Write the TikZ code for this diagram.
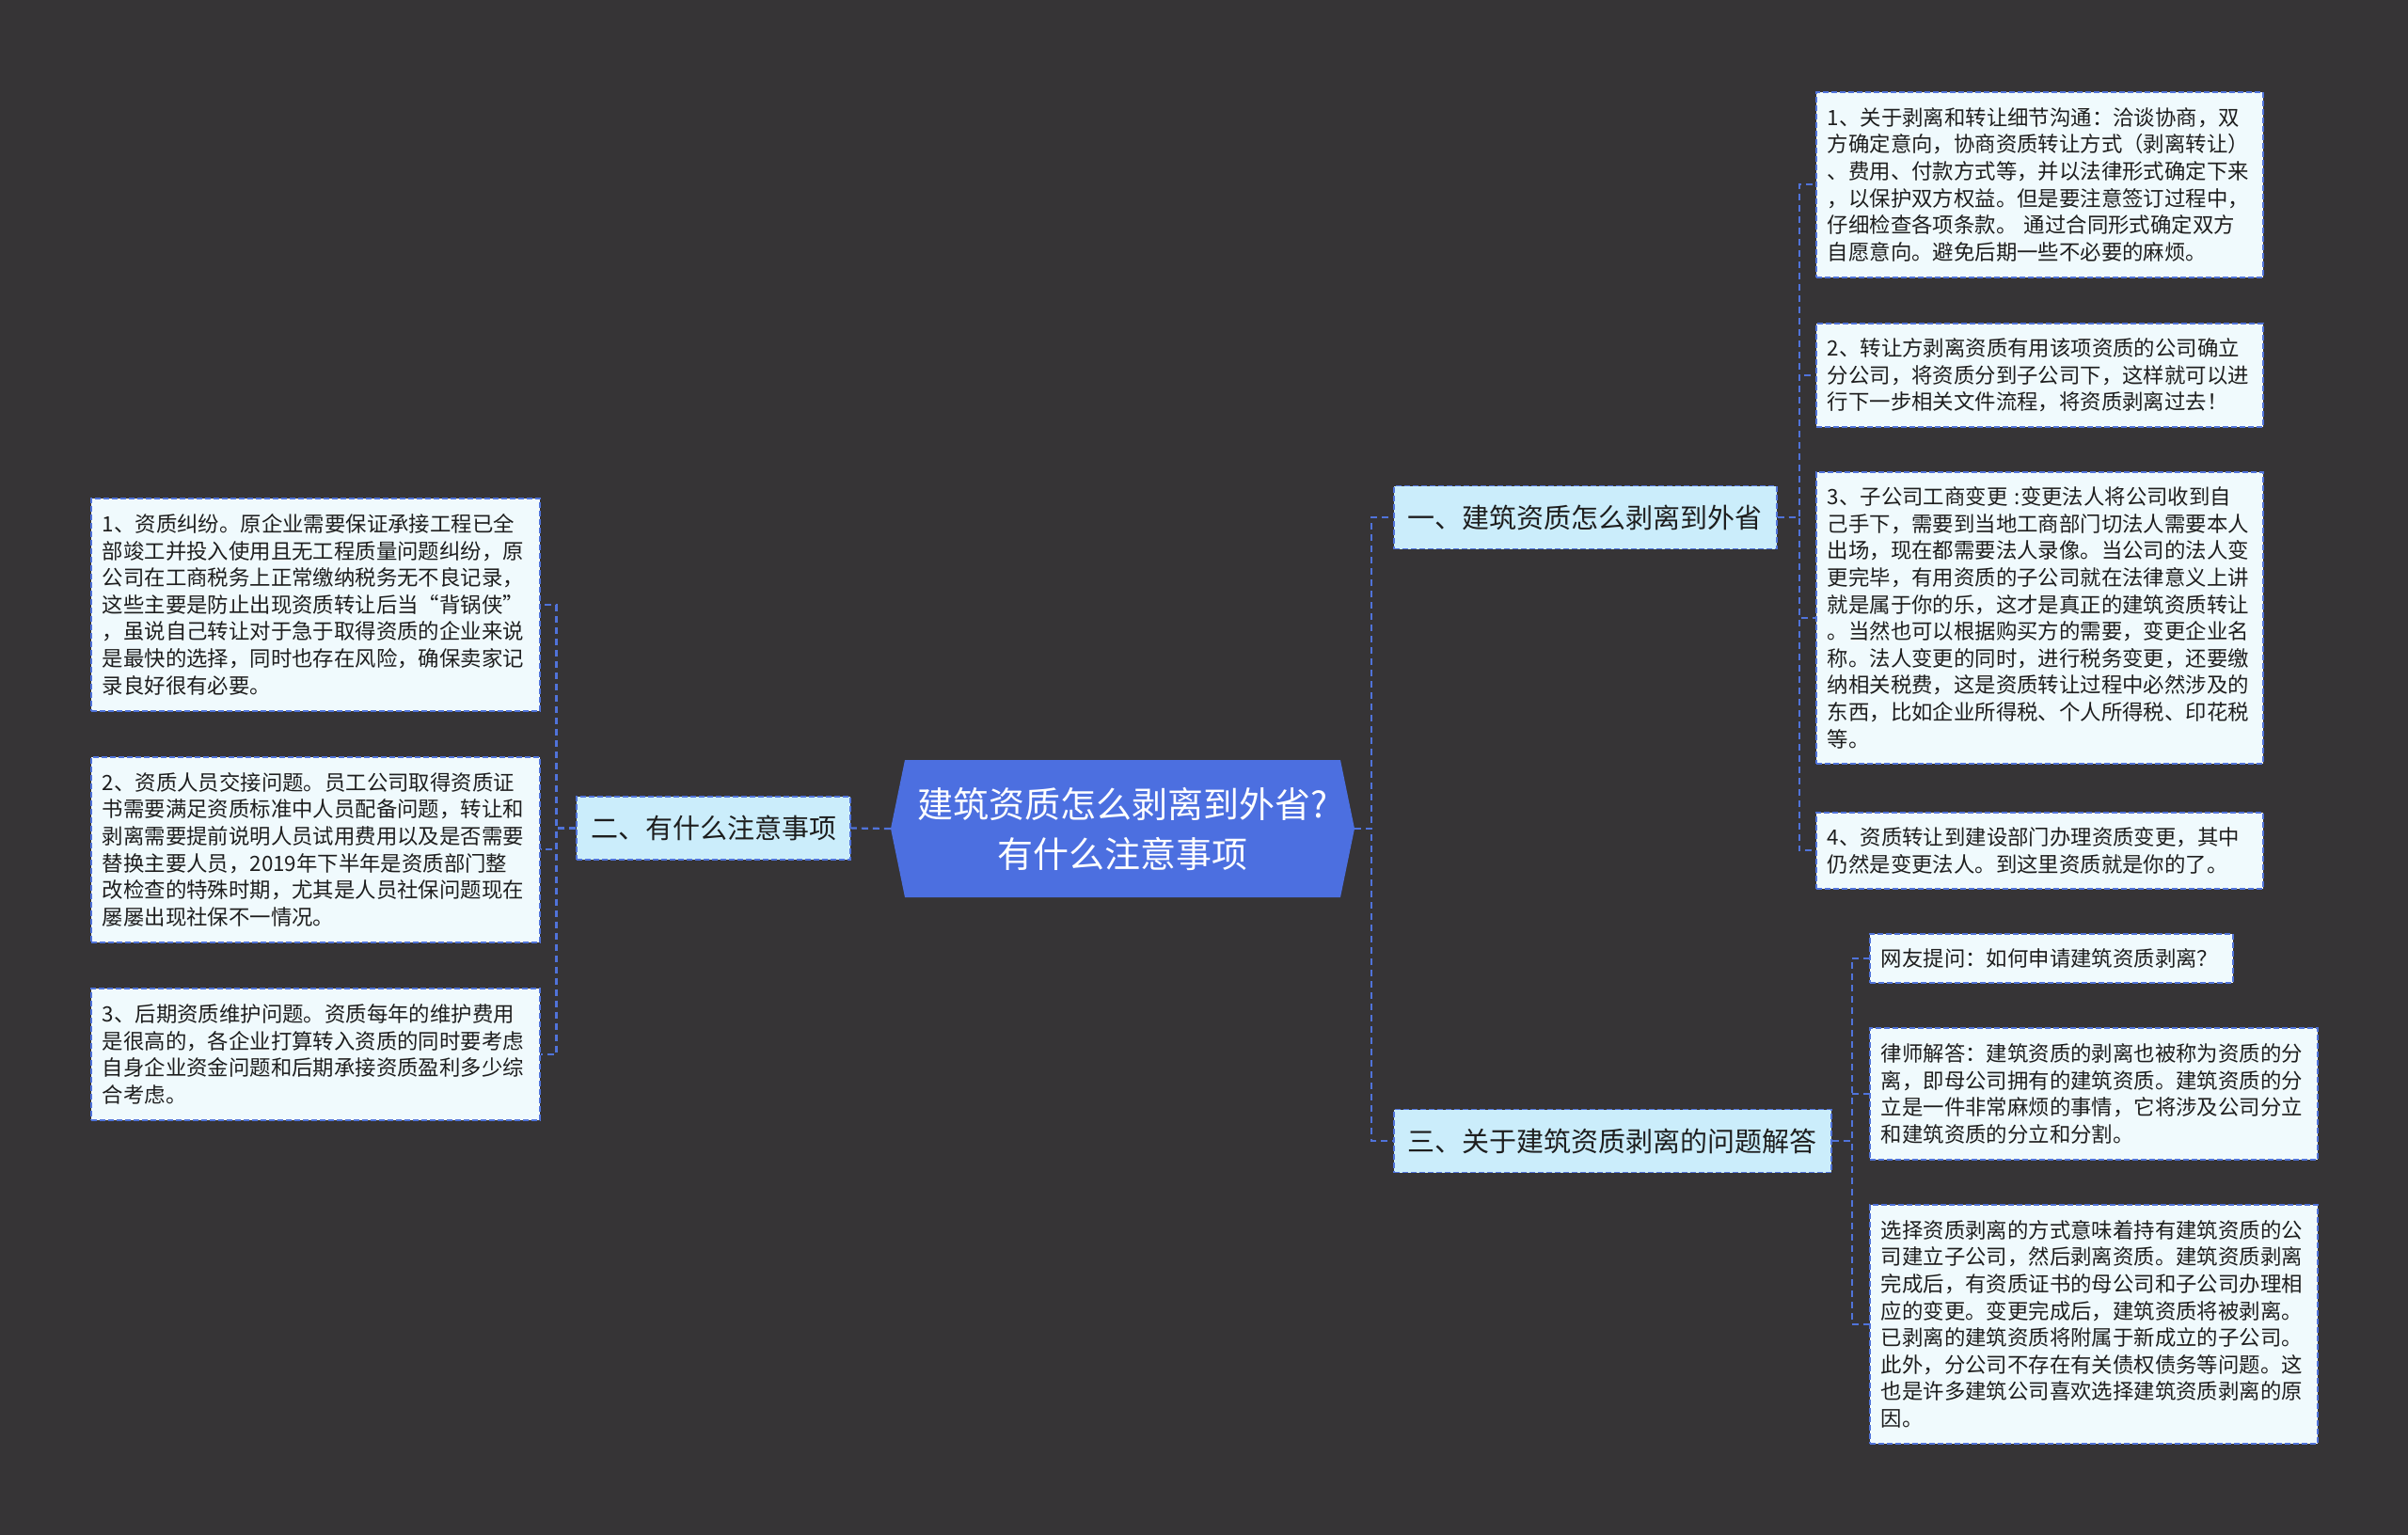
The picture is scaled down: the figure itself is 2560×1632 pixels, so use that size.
\documentclass[tikz,border=0pt]{standalone}
\usepackage{fontspec}
\setmainfont{Noto Sans CJK SC}
\definecolor{bg}{HTML}{363436}
\definecolor{linec}{HTML}{5073DA}
\definecolor{cfill}{HTML}{4C6FE0}
\definecolor{brfill}{HTML}{CBEDFB}
\definecolor{leaffill}{HTML}{F0FAFD}
\definecolor{txt}{HTML}{1E1E1E}
\begin{document}
\begin{tikzpicture}[x=1pt,y=-1pt,
  conn/.style={draw=linec, line width=2.2pt, dash pattern=on 7pt off 5pt},
  leaf/.style={draw=linec, line width=1.6pt, dash pattern=on 6pt off 3pt, fill=leaffill, text=txt,
    font=\fontsize{22.4pt}{28.6pt}\selectfont, align=left, inner xsep=12pt, inner ysep=0pt, anchor=north west},
  branch/.style={draw=linec, line width=1.6pt, dash pattern=on 6pt off 3pt, fill=brfill, text=txt,
    font=\fontsize{29pt}{35pt}\selectfont, inner xsep=15pt, inner ysep=0pt, minimum height=67pt}
]
\fill[bg] (0,0) rectangle (2560,1632);
\useasboundingbox (0,0) rectangle (2560,1632);

% center
\fill[cfill] (947,881) -- (962,808) -- (1425,808) -- (1440,881) -- (1425,954) -- (962,954) -- cycle;
\node[text=white, font=\fontsize{38pt}{53pt}\selectfont, align=center, minimum width=493pt, minimum height=146pt, inner sep=0pt] (c) at (1193.5,881) {\raisebox{0pt}[0pt][0pt]{}建筑资质怎么剥离到外省?\\有什么注意事项};

% branches
\node[branch, anchor=west] (b1) at (1481,550) {一、建筑资质怎么剥离到外省};
\node[branch, anchor=west] (b3) at (1481,1213) {三、关于建筑资质剥离的问题解答};
\node[branch, anchor=east] (b2) at (905,880.5) {二、有什么注意事项};

% right leaves of b1
\node[leaf, text width=451pt, minimum height=197pt] (r1) at (1930,97) {1、关于剥离和转让细节沟通：洽谈协商，双\\方确定意向，协商资质转让方式（剥离转让）\\、费用、付款方式等，并以法律形式确定下来\\，以保护双方权益。但是要注意签订过程中，\\仔细检查各项条款。~通过合同形式确定双方\\自愿意向。避免后期一些不必要的麻烦。};
\node[leaf, text width=451pt, minimum height=110pt] (r2) at (1930,343) {2、转让方剥离资质有用该项资质的公司确立\\分公司，将资质分到子公司下，这样就可以进\\行下一步相关文件流程，将资质剥离过去！};
\node[leaf, text width=451pt, minimum height=310pt] (r3) at (1930,501) {3、子公司工商变更~:变更法人将公司收到自\\己手下，需要到当地工商部门切法人需要本人\\出场，现在都需要法人录像。当公司的法人变\\更完毕，有用资质的子公司就在法律意义上讲\\就是属于你的乐，这才是真正的建筑资质转让\\。当然也可以根据购买方的需要，变更企业名\\称。法人变更的同时，进行税务变更，还要缴\\纳相关税费，这是资质转让过程中必然涉及的\\东西，比如企业所得税、个人所得税、印花税\\等。};
\node[leaf, text width=451pt, minimum height=81pt] (r4) at (1930,863) {4、资质转让到建设部门办理资质变更，其中\\仍然是变更法人。到这里资质就是你的了。};

% leaves of b3
\node[leaf, text width=362pt, minimum height=52pt] (q) at (1987,992) {网友提问：如何申请建筑资质剥离？};
\node[leaf, text width=452pt, minimum height=140pt] (a1) at (1987,1092) {律师解答：建筑资质的剥离也被称为资质的分\\离，即母公司拥有的建筑资质。建筑资质的分\\立是一件非常麻烦的事情，它将涉及公司分立\\和建筑资质的分立和分割。};
\node[leaf, text width=452pt, minimum height=254pt] (a2) at (1987,1280) {选择资质剥离的方式意味着持有建筑资质的公\\司建立子公司，然后剥离资质。建筑资质剥离\\完成后，有资质证书的母公司和子公司办理相\\应的变更。变更完成后，建筑资质将被剥离。\\已剥离的建筑资质将附属于新成立的子公司。\\此外，分公司不存在有关债权债务等问题。这\\也是许多建筑公司喜欢选择建筑资质剥离的原\\因。};

% left leaves
\node[leaf, text width=453pt, minimum height=226pt] (l1) at (96,529) {1、资质纠纷。原企业需要保证承接工程已全\\部竣工并投入使用且无工程质量问题纠纷，原\\公司在工商税务上正常缴纳税务无不良记录，\\这些主要是防止出现资质转让后当“背锅侠”\\，虽说自己转让对于急于取得资质的企业来说\\是最快的选择，同时也存在风险，确保卖家记\\录良好很有必要。};
\node[leaf, text width=453pt, minimum height=197pt] (l2) at (96,804) {2、资质人员交接问题。员工公司取得资质证\\书需要满足资质标准中人员配备问题，转让和\\剥离需要提前说明人员试用费用以及是否需要\\替换主要人员，2019年下半年是资质部门整\\改检查的特殊时期，尤其是人员社保问题现在\\屡屡出现社保不一情况。};
\node[leaf, text width=453pt, minimum height=140pt] (l3) at (96,1050) {3、后期资质维护问题。资质每年的维护费用\\是很高的，各企业打算转入资质的同时要考虑\\自身企业资金问题和后期承接资质盈利多少综\\合考虑。};

% connectors
\draw[conn] (c.east) -- ++(18,0) |- (b1.west);
\draw[conn] (c.east) -- ++(18,0) |- (b3.west);
\draw[conn] (c.west) -- (b2.east);
\foreach \n in {r1,r2,r3,r4} \draw[conn] (b1.east) -- ++(23,0) |- (\n.west);
\foreach \n in {q,a1,a2} \draw[conn] (b3.east) -- ++(21,0) |- (\n.west);
\foreach \n in {l1,l2,l3} \draw[conn] (b2.west) -- ++(-21,0) |- (\n.east);
\end{tikzpicture}
\end{document}
